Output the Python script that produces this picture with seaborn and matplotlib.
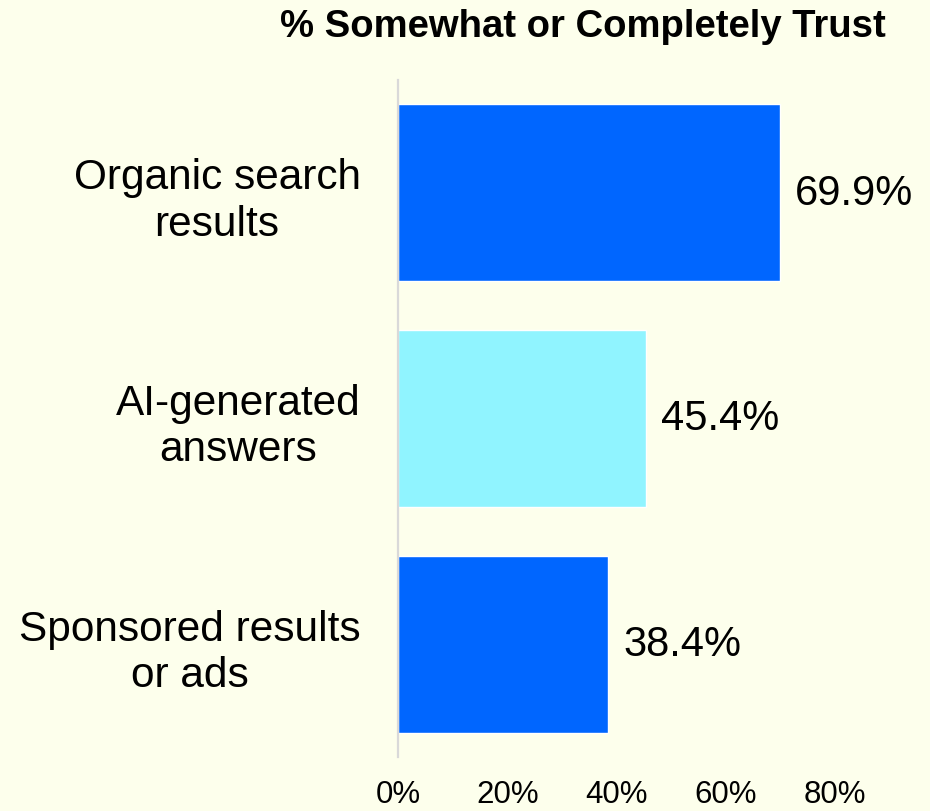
import seaborn as sns
import matplotlib.pyplot as plt

# data
categories = ['Organic search\nresults', 'AI-generated\nanswers', 'Sponsored results\nor ads']
trust_pct = [69.9, 45.4, 38.4]
bar_colors = ['#0066FF', '#90F4FF', '#0066FF']
tick_values = [0, 20, 40, 60, 80]
tick_labels = ['0%', '20%', '40%', '60%', '80%']
title = '% Somewhat or Completely Trust'

bg = '#FDFFEC'
sns.set_style('white')
plt.rcParams['font.family'] = ['Liberation Sans', 'DejaVu Sans']
plt.rcParams['text.color'] = 'black'
plt.rcParams['xtick.color'] = 'black'
plt.rcParams['ytick.color'] = 'black'

fig = plt.figure(figsize=(9.3, 8.12), dpi=100, facecolor=bg)
ax = fig.add_axes([398 / 930, 54 / 812, 437 / 930, 677 / 812])
ax.set_facecolor(bg)

sns.barplot(x=trust_pct, y=categories, hue=categories, palette=bar_colors,
            orient='h', width=0.785, legend=False, saturation=1, ax=ax)

for c in ax.containers:
    ax.bar_label(c, fmt='%.1f%%', padding=11, fontsize=30, color='black')

ax.set_xlim(0, 80)
ax.set_ylim(2.5, -0.5)
ax.set_xticks(tick_values)
ax.set_xticklabels(tick_labels, fontsize=22.5)
ax.tick_params(axis='x', length=0, pad=16, labelcolor='black')
ax.tick_params(axis='y', length=0, pad=27, labelsize=30.5, labelcolor='black')
for lbl in ax.get_yticklabels():
    lbl.set_multialignment('center')
ax.set_xlabel('')
ax.set_ylabel('')

for s in ['top', 'right', 'bottom']:
    ax.spines[s].set_visible(False)
ax.spines['left'].set_color('#D9D9D9')
ax.spines['left'].set_linewidth(1.6)

fig.text(582.5 / 930, 1 - 37 / 812, title, ha='center', va='baseline',
         fontsize=27.5, fontweight='bold', color='black')

fig.savefig('out.png', dpi=100, facecolor=bg)
